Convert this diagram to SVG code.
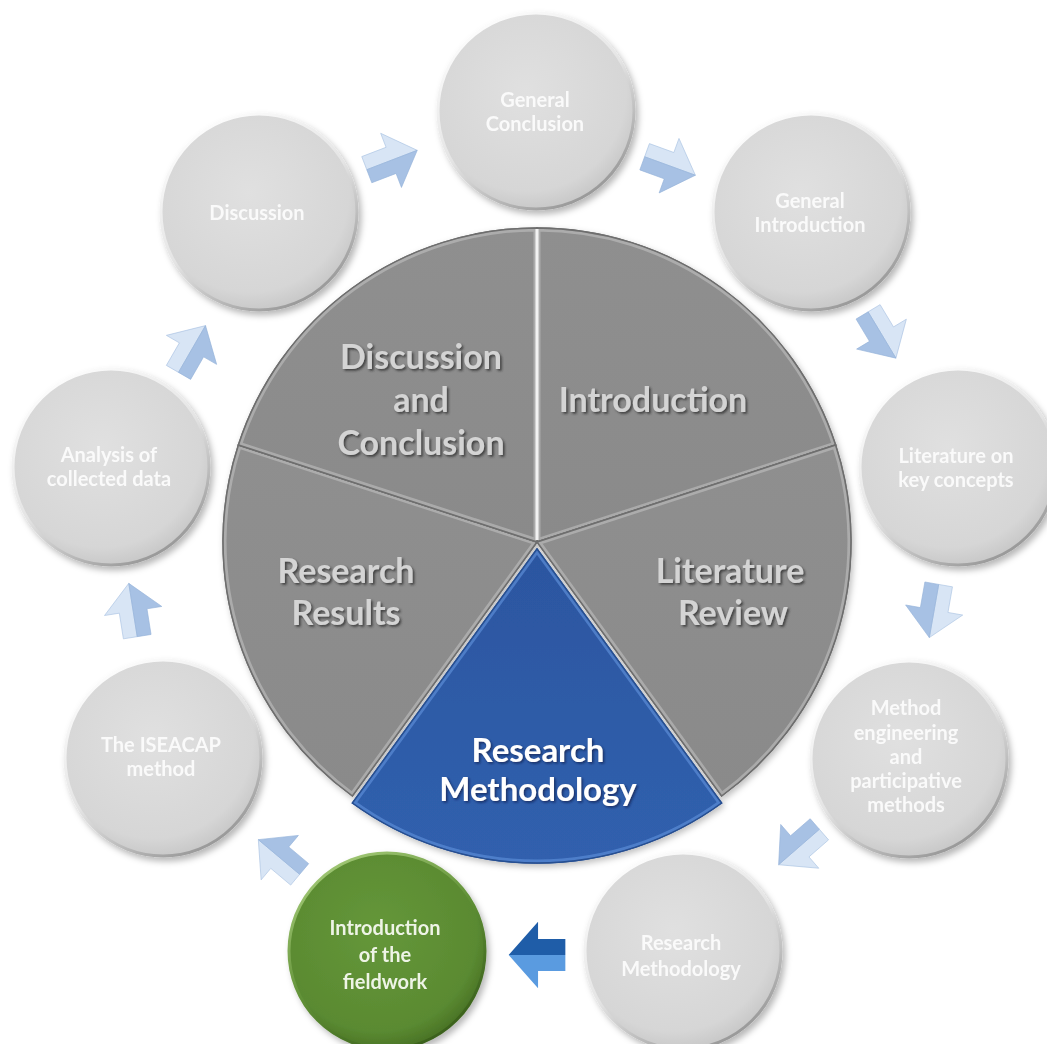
<svg xmlns="http://www.w3.org/2000/svg" xmlns:xlink="http://www.w3.org/1999/xlink" width="1047" height="1044" viewBox="0 0 1047 1044">
<style>
.pt{font-family:Lato,"Open Sans","Liberation Sans",sans-serif;font-weight:700;font-size:34px;fill:#D4D4D4;text-anchor:middle;filter:url(#tsh)}
.bt{font-family:Lato,"Open Sans","Liberation Sans",sans-serif;font-weight:700;font-size:33px;fill:#FFFFFF;text-anchor:middle;filter:url(#tshb)}
.ct{font-family:Lato,"Open Sans","Liberation Sans",sans-serif;font-weight:700;font-size:20px;fill:#FAFAFA;text-anchor:middle}
.gt{font-family:Lato,"Open Sans","Liberation Sans",sans-serif;font-weight:700;font-size:20px;fill:#EEF4E6;text-anchor:middle}
.wedge{fill:url(#grayFill);stroke:#737373;stroke-width:1.5}
.bev{fill:none;stroke:#C4C4C4;stroke-width:7;opacity:0.55}
.circ{fill:url(#cFill);stroke:url(#cRim);stroke-width:3;filter:url(#csh)}
</style>
<defs>
<filter id="tsh" x="-10%" y="-20%" width="130%" height="150%"><feDropShadow dx="1.8" dy="1.8" stdDeviation="1" flood-color="#333" flood-opacity="0.8"/></filter>
<filter id="tshb" x="-10%" y="-20%" width="130%" height="150%"><feDropShadow dx="1.5" dy="1.5" stdDeviation="1" flood-color="#0b1e44" flood-opacity="0.7"/></filter>
<filter id="csh" x="-20%" y="-20%" width="150%" height="150%"><feDropShadow dx="3" dy="4" stdDeviation="3" flood-color="#000" flood-opacity="0.28"/></filter>
<filter id="psh" x="-10%" y="-10%" width="120%" height="120%"><feDropShadow dx="2" dy="3" stdDeviation="3" flood-color="#000" flood-opacity="0.25"/></filter>
<linearGradient id="grayFill" x1="0" y1="0" x2="0" y2="1"><stop offset="0" stop-color="#8F8F8F"/><stop offset="1" stop-color="#8A8A8A"/></linearGradient>
<linearGradient id="blueFill" x1="0" y1="0" x2="0" y2="1"><stop offset="0" stop-color="#2C56A0"/><stop offset="1" stop-color="#3060AE"/></linearGradient>
<radialGradient id="cFill" cx="0.45" cy="0.4" r="0.6"><stop offset="0" stop-color="#E0E0E0"/><stop offset="0.85" stop-color="#D6D6D6"/><stop offset="1" stop-color="#C9C9C9"/></radialGradient>
<linearGradient id="cRim" x1="0.2" y1="0" x2="0.8" y2="1"><stop offset="0" stop-color="#FFFFFF"/><stop offset="0.5" stop-color="#E4E4E4"/><stop offset="1" stop-color="#8E8E8E"/></linearGradient>
<radialGradient id="gFill" cx="0.45" cy="0.4" r="0.6"><stop offset="0" stop-color="#65973A"/><stop offset="0.85" stop-color="#5A8A31"/><stop offset="1" stop-color="#4B7527"/></radialGradient>
<linearGradient id="gRim" x1="0.2" y1="0" x2="0.8" y2="1"><stop offset="0" stop-color="#A6CC7A"/><stop offset="0.5" stop-color="#5F8F35"/><stop offset="1" stop-color="#355A18"/></linearGradient>
<path id="pIntro" d="M537,542 L537,228 A314,314 0 0,1 835.6,445 Z"/>
<path id="pLit" d="M537,542 L835.6,445 A314,314 0 0,1 721.6,796 Z"/>
<path id="pRes" d="M537,542 L352.4,796 A314,314 0 0,1 238.4,445 Z"/>
<path id="pDisc" d="M537,542 L238.4,445 A314,314 0 0,1 537,228 Z"/>
<path id="pMeth" d="M537,549 L721.6,803 A314,314 0 0,1 352.4,803 Z"/>
<clipPath id="cIntro"><use xlink:href="#pIntro"/></clipPath>
<clipPath id="cLit"><use xlink:href="#pLit"/></clipPath>
<clipPath id="cRes"><use xlink:href="#pRes"/></clipPath>
<clipPath id="cDisc"><use xlink:href="#pDisc"/></clipPath>
<clipPath id="cMeth"><use xlink:href="#pMeth"/></clipPath>
<g id="arw">
<polygon points="-27,-14 -1,-14 -1,-29 27,0 -27,0" fill="#D8E5F5" stroke="#A9C2E2" stroke-width="0.6"/>
<polygon points="-27,0 27,0 -1,29 -1,14 -27,14" fill="#A7C1E4" stroke="#94B2DA" stroke-width="0.6"/>
</g>
<g id="arwDark">
<polygon points="-27,-14 -1,-14 -1,-29 27,0 -27,0" fill="#5A9BE0"/>
<polygon points="-27,0 27,0 -1,29 -1,14 -27,14" fill="#1F5DA8"/>
</g>
</defs>
<rect width="1047" height="1044" fill="#FFFFFF"/>

<g id="connectors">
<use xlink:href="#arw" transform="translate(392,160) rotate(-21)"/>
<use xlink:href="#arw" transform="translate(670,166) rotate(20)"/>
<use xlink:href="#arw" transform="translate(882,335) rotate(59)"/>
<use xlink:href="#arw" transform="translate(934,611) rotate(100)"/>
<use xlink:href="#arw" transform="translate(799,847) rotate(139)"/>
<use xlink:href="#arwDark" transform="translate(537,955) rotate(180) scale(1.05,1.15)"/>
<use xlink:href="#arw" transform="translate(279,857) rotate(220)"/>
<use xlink:href="#arw" transform="translate(133,610) rotate(261)"/>
<use xlink:href="#arw" transform="translate(192,349) rotate(300)"/>
</g>

<g id="pie" filter="url(#psh)">
<g id="wedge-introduction">
<use xlink:href="#pIntro" class="wedge"/>
<use xlink:href="#pIntro" class="bev" clip-path="url(#cIntro)"/>
<use xlink:href="#pIntro" fill="none" stroke="#6E6E6E" stroke-width="1.5"/>
<text class="pt" x="653" y="412">Introduction</text>
</g>
<g id="wedge-literature-review">
<use xlink:href="#pLit" class="wedge"/>
<use xlink:href="#pLit" class="bev" clip-path="url(#cLit)"/>
<use xlink:href="#pLit" fill="none" stroke="#6E6E6E" stroke-width="1.5"/>
<text class="pt" x="730" y="583">Literature</text>
<text class="pt" x="733" y="625">Review</text>
</g>
<g id="wedge-research-results">
<use xlink:href="#pRes" class="wedge"/>
<use xlink:href="#pRes" class="bev" clip-path="url(#cRes)"/>
<use xlink:href="#pRes" fill="none" stroke="#6E6E6E" stroke-width="1.5"/>
<text class="pt" x="346" y="583">Research</text>
<text class="pt" x="346" y="625">Results</text>
</g>
<g id="wedge-discussion-conclusion">
<use xlink:href="#pDisc" class="wedge"/>
<use xlink:href="#pDisc" class="bev" clip-path="url(#cDisc)"/>
<use xlink:href="#pDisc" fill="none" stroke="#6E6E6E" stroke-width="1.5"/>
<text class="pt" x="421" y="369">Discussion</text>
<text class="pt" x="421" y="412">and</text>
<text class="pt" x="421" y="455">Conclusion</text>
</g>
<line x1="537" y1="229" x2="537" y2="540" stroke="#FFFFFF" stroke-width="3" opacity="0.9"/>
<g id="wedge-research-methodology">
<use xlink:href="#pMeth" fill="url(#blueFill)" stroke="#244C8C" stroke-width="1.5"/>
<use xlink:href="#pMeth" fill="none" stroke="#5B8BD6" stroke-width="7" opacity="0.7" clip-path="url(#cMeth)"/>
<use xlink:href="#pMeth" fill="none" stroke="#274F92" stroke-width="1.5"/>
<text class="bt" x="538" y="762">Research</text>
<text class="bt" x="538" y="801">Methodology</text>
</g>
</g>

<g id="node-general-conclusion">
<circle class="circ" cx="536" cy="111" r="98"/>
<text class="ct" x="535" y="107">General</text>
<text class="ct" x="535" y="131">Conclusion</text>
</g>
<g id="node-general-introduction">
<circle class="circ" cx="811" cy="212" r="98"/>
<text class="ct" x="810" y="208">General</text>
<text class="ct" x="810" y="232">Introduction</text>
</g>
<g id="node-literature-key-concepts">
<circle class="circ" cx="958" cy="467" r="98"/>
<text class="ct" x="956" y="463">Literature on</text>
<text class="ct" x="956" y="487">key concepts</text>
</g>
<g id="node-method-engineering">
<circle class="circ" cx="909" cy="759" r="98"/>
<text class="ct" x="906" y="715">Method</text>
<text class="ct" x="906" y="740">engineering</text>
<text class="ct" x="906" y="764">and</text>
<text class="ct" x="906" y="788">participative</text>
<text class="ct" x="906" y="812">methods</text>
</g>
<g id="node-research-methodology">
<circle class="circ" cx="683" cy="951" r="98"/>
<text class="ct" x="681" y="950">Research</text>
<text class="ct" x="681" y="976">Methodology</text>
</g>
<g id="node-introduction-fieldwork">
<circle cx="387" cy="951" r="98" fill="url(#gFill)" stroke="url(#gRim)" stroke-width="3" filter="url(#csh)"/>
<text class="gt" x="385" y="935">Introduction</text>
<text class="gt" x="385" y="962">of the</text>
<text class="gt" x="385" y="989">fieldwork</text>
</g>
<g id="node-iseacap">
<circle class="circ" cx="163" cy="758" r="98"/>
<text class="ct" x="161" y="752">The ISEACAP</text>
<text class="ct" x="161" y="776">method</text>
</g>
<g id="node-analysis">
<circle class="circ" cx="111" cy="467" r="98"/>
<text class="ct" x="109" y="462">Analysis of</text>
<text class="ct" x="109" y="486">collected data</text>
</g>
<g id="node-discussion">
<circle class="circ" cx="259" cy="212" r="98"/>
<text class="ct" x="257" y="220">Discussion</text>
</g>
</svg>
